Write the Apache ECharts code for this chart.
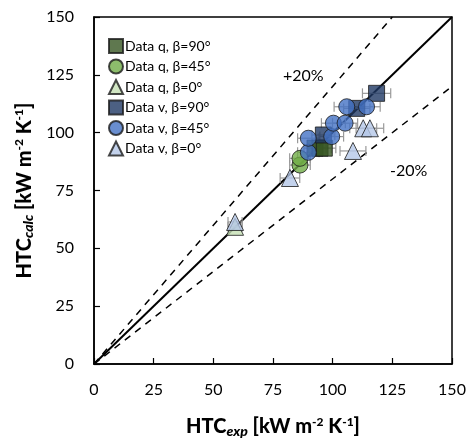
<!DOCTYPE html>
<html>
<head>
<meta charset="utf-8">
<script src="https://cdn.jsdelivr.net/npm/echarts@6/dist/echarts.min.js"></script>
<style>
  html, body { margin: 0; padding: 0; background: #fff; }
  #chart { width: 469px; height: 447px; }
</style>
</head>
<body>
<div id="chart"></div>
<script>
// Measured vs. calculated heat transfer coefficient, [HTC_exp, HTC_calc] in kW m^-2 K^-1
const dataQ90 = [[92.6, 93.3], [94.7, 93.3], [96.5, 93.3]];
const dataQ45 = [[86.3, 86.0], [86.3, 88.9]];
const dataQ0  = [[59.1, 59.3]];
const dataV90 = [[96.1, 99.0], [110.1, 110.5], [118.4, 117.0]];
const dataV45 = [[89.8, 91.5], [89.8, 97.6], [99.6, 98.3], [100.3, 104.1],
                 [105.2, 104.1], [105.9, 111.2], [114.2, 111.2]];
const dataV0  = [[59.1, 61.4], [82.1, 80.4], [108.5, 92.1], [112.8, 101.9], [115.6, 101.9]];

// Relative uncertainty of the measured HTC (horizontal error bars)
const expUncertainty = 0.05;

const axisTicks = [0, 25, 50, 75, 100, 125, 150];
const bandRatio = 0.2; // ±20 % band

const FONT = 'Lato';

const seriesDefs = [
  { name: 'Data q, β=90°', data: dataQ90, symbol: 'rect',     color: '#375623' },
  { name: 'Data q, β=45°', data: dataQ45, symbol: 'circle',   color: '#70AD47' },
  { name: 'Data q, β=0°',  data: dataQ0,  symbol: 'triangle', color: '#C5E0B4' },
  { name: 'Data v, β=90°', data: dataV90, symbol: 'rect',     color: '#1F3864' },
  { name: 'Data v, β=45°', data: dataV45, symbol: 'circle',   color: '#4472C4' },
  { name: 'Data v, β=0°',  data: dataV0,  symbol: 'triangle', color: '#B4C7E7' }
];

const axisMax = axisTicks[axisTicks.length - 1];
const axisStep = axisTicks[1] - axisTicks[0];

// horizontal error bars, drawn beneath the markers
function errorBarSeries(points) {
  return {
    type: 'custom',
    silent: true,
    z: 1,
    data: points.map(p => [p[0], p[1], p[0] * expUncertainty]),
    renderItem: function (params, api) {
      const x = api.value(0), y = api.value(1), e = api.value(2);
      const a = api.coord([x - e, y]);
      const b = api.coord([x + e, y]);
      const h = 5;
      const style = { stroke: '#999999', lineWidth: 1.2, fill: null };
      return {
        type: 'group',
        children: [
          { type: 'line', shape: { x1: a[0], y1: a[1], x2: b[0], y2: b[1] }, style },
          { type: 'line', shape: { x1: a[0], y1: a[1] - h, x2: a[0], y2: a[1] + h }, style },
          { type: 'line', shape: { x1: b[0], y1: b[1] - h, x2: b[0], y2: b[1] + h }, style }
        ]
      };
    }
  };
}

const series = [];

// parity line and ±20 % lines
series.push({
  type: 'line', silent: true, symbol: 'none', z: 0,
  data: [[0, 0], [axisMax, axisMax]],
  lineStyle: { color: '#000', width: 2 }
});
series.push({
  type: 'line', silent: true, symbol: 'none', z: 0,
  data: [[0, 0], [axisMax / (1 + bandRatio), axisMax]],
  lineStyle: { color: '#000', width: 1.5, type: [7, 6] }
});
series.push({
  type: 'line', silent: true, symbol: 'none', z: 0,
  data: [[0, 0], [axisMax, axisMax * (1 - bandRatio)]],
  lineStyle: { color: '#000', width: 1.5, type: [7, 6] }
});

seriesDefs.forEach(d => series.push(errorBarSeries(d.data)));

seriesDefs.forEach(d => {
  series.push({
    name: d.name,
    type: 'scatter',
    z: 3,
    symbol: d.symbol,
    symbolSize: d.symbol === 'triangle' ? 17 : 16,
    data: d.data,
    itemStyle: { color: d.color, borderColor: '#1a1a1a', borderWidth: 1 }
  });
});

const titleRich = {
  b:   { fontFamily: FONT, fontWeight: 900, fontSize: 20, color: '#000' },
  sub: { fontFamily: FONT, fontWeight: 900, fontStyle: 'italic', fontSize: 14, color: '#000', verticalAlign: 'bottom', padding: [8, 0, 0, 0] },
  sup: { fontFamily: FONT, fontWeight: 900, fontSize: 12, color: '#000', verticalAlign: 'top', padding: [0, 0, 8, 0] }
};

const chart = echarts.init(document.getElementById('chart'), null, { renderer: 'canvas' });
chart.setOption({
  animation: false,
  backgroundColor: '#fff',
  textStyle: { fontFamily: FONT },
  grid: {
    left: 94, right: 17, top: 17, bottom: 83,
    show: true, borderColor: '#000', borderWidth: 1.5, backgroundColor: 'transparent'
  },
  legend: {
    orient: 'vertical',
    left: 103, top: 33,
    itemWidth: 14, itemHeight: 14, itemGap: 4.5,
    textStyle: { fontFamily: FONT, fontSize: 14, color: '#000', padding: [0, 0, 0, -3] },
    data: seriesDefs.map(d => d.name)
  },
  xAxis: {
    type: 'value', min: 0, max: axisMax, interval: axisStep,
    name: '{b|HTC}{sub|exp}{b| [kW m}{sup|-2}{b| K}{sup|-1}{b|]}',
    nameLocation: 'middle', nameGap: 52,
    nameTextStyle: { fontWeight: 'bold', rich: titleRich },
    axisLine: { lineStyle: { color: '#000', width: 1.5 } },
    axisTick: { inside: true, length: 6, lineStyle: { color: '#000', width: 1.2 } },
    axisLabel: { fontFamily: FONT, fontSize: 16, color: '#000', margin: 18 },
    splitLine: { show: false }
  },
  yAxis: {
    type: 'value', min: 0, max: axisMax, interval: axisStep,
    name: '{b|HTC}{sub|calc}{b| [kW m}{sup|-2}{b| K}{sup|-1}{b|]}',
    nameLocation: 'middle', nameGap: 58, nameRotate: 90,
    nameTextStyle: { fontWeight: 'bold', rich: titleRich },
    axisLine: { lineStyle: { color: '#000', width: 1.5 } },
    axisTick: { inside: true, length: 6, lineStyle: { color: '#000', width: 1.2 } },
    axisLabel: { fontFamily: FONT, fontSize: 16, color: '#000', margin: 20 },
    splitLine: { show: false }
  },
  graphic: [
    { type: 'text', left: 283, top: 68,
      style: { text: '+20%', fontFamily: FONT, fontSize: 16, fill: '#000' } },
    { type: 'text', left: 390, top: 163,
      style: { text: '-20%', fontFamily: FONT, fontSize: 16, fill: '#000' } }
  ],
  series: series
});
</script>
</body>
</html>
